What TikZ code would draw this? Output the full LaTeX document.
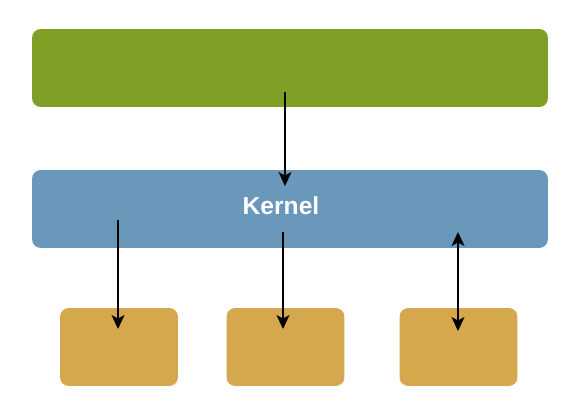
\documentclass[tikz,border=0pt]{standalone}
\usepackage{fontspec}
\setsansfont{Liberation Sans}
\usepackage{xcolor}
\usetikzlibrary{arrows.meta,positioning}

\definecolor{appgreen}{RGB}{127,160,37}
\definecolor{kernelblue}{RGB}{106,152,186}
\definecolor{devorange}{RGB}{213,168,78}

\begin{document}
\begin{tikzpicture}[
  x=0.02cm, y=-0.02cm,
  >={Stealth[length=2.8mm,width=2.6mm,inset=0.7mm]},
  layer/.style={rounded corners=5pt, minimum width=10.32cm, minimum height=1.56cm,
               inner sep=0pt, anchor=center},
  devbox/.style={rounded corners=5pt, minimum width=2.36cm, minimum height=1.56cm,
               inner sep=0pt, fill=devorange, anchor=center},
  link/.style={semithick, ->},
]

% === Canvas ===
\useasboundingbox (0,0) rectangle (561,405);

% === Layers ===
\node[layer, fill=appgreen] (apps) at (290, 68) {};
\node[layer, fill=kernelblue] (kernel) at (290, 209) {};
\node[font=\sffamily\bfseries\fontsize{14}{16}\selectfont, text=white]
  (kernellabel) at (281, 206) {Kernel};

% === Devices ===
\node[devbox] (dev1) at (119, 347) {};
\node[devbox] (dev2) at (285.5, 347) {};
\node[devbox] (dev3) at (458.5, 347) {};

% === Link end points ===
\coordinate (a0) at (285, 92);
\coordinate (k0) at (285, 186);
\coordinate (k1) at (118, 220);
\coordinate (k2) at (283, 232);
\coordinate (k3) at (458, 232);
\coordinate (d1) at (118, 329);
\coordinate (d2) at (283, 329);
\coordinate (d3) at (458, 331);

% === Links ===
\draw[link] (a0) -- (k0);
\draw[link] (k1) -- (d1);
\draw[link] (k2) -- (d2);
\draw[link, <->] (k3) -- (d3);

\end{tikzpicture}
\end{document}
